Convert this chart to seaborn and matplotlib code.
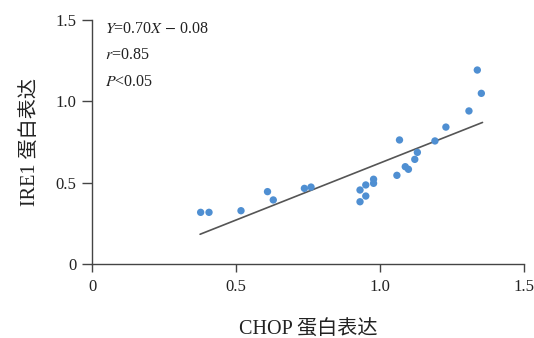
import numpy as np
import pandas as pd
import matplotlib
matplotlib.use("Agg")
import matplotlib.pyplot as plt
import seaborn as sns

# CHOP vs IRE1 protein expression per sample
chop = [0.377, 0.406, 0.517, 0.609, 0.629, 0.737, 0.760, 0.930, 0.930, 0.950,
        0.950, 0.977, 0.977, 1.058, 1.067, 1.087, 1.098, 1.120, 1.129, 1.190,
        1.228, 1.308, 1.337, 1.351]
ire1 = [0.317, 0.317, 0.327, 0.444, 0.393, 0.464, 0.472, 0.454, 0.382, 0.417,
        0.485, 0.520, 0.495, 0.544, 0.761, 0.597, 0.581, 0.642, 0.685, 0.755,
        0.840, 0.939, 1.190, 1.047]

# fitted line Y = slope * X + intercept
slope = 0.70
intercept = -0.08
fit_range = [0.375, 1.355]

ticks = [0, 0.5, 1.0, 1.5]
tick_labels = ["0", "0.5", "1.0", "1.5"]
stats_lines = [r"$\it{Y}$=0.70$\it{X}$ $-$ 0.08", r"$\it{r}$=0.85", r"$\it{P}$<0.05"]

sns.set_style("ticks")
plt.rcParams["font.family"] = ["Liberation Serif", "Noto Sans CJK SC"]
plt.rcParams["mathtext.fontset"] = "stix"

df = pd.DataFrame({"CHOP": chop, "IRE1": ire1})
fit = pd.DataFrame({"x": fit_range})
fit["y"] = slope * fit["x"] + intercept

fig = plt.figure(figsize=(5.34, 3.38), dpi=100)
ax = fig.add_axes([0.1723, 0.2189, 0.8095, 0.7234])

sns.lineplot(data=fit, x="x", y="y", ax=ax, color="#555555", linewidth=1.2)
sns.scatterplot(data=df, x="CHOP", y="IRE1", ax=ax, color="#4f8fd2",
                s=28, edgecolor="none", zorder=3)

ax.set_xlim(0, 1.5)
ax.set_ylim(0, 1.5)
ax.set_xticks(ticks)
ax.set_xticklabels(tick_labels)
ax.set_yticks(ticks)
ax.set_yticklabels(tick_labels)
ax.tick_params(axis="both", labelsize=12, color="#444444", labelcolor="#222222",
               width=1.0)
ax.tick_params(axis="x", length=6, pad=5)
ax.tick_params(axis="y", length=7, pad=4)
for side in ("top", "right"):
    ax.spines[side].set_visible(False)
for side in ("left", "bottom"):
    ax.spines[side].set_color("#444444")
    ax.spines[side].set_linewidth(1.0)

ax.set_xlabel("CHOP 蛋白表达", fontsize=14.5, color="#222222", labelpad=18)
ax.set_ylabel("IRE1 蛋白表达", fontsize=14.5, color="#222222", labelpad=11)

for i, txt in enumerate(stats_lines):
    ax.text(0.03, 0.963 - i * 0.11, txt, transform=ax.transAxes,
            fontsize=11.5, color="#222222", va="center", ha="left")

fig.savefig("out.png", dpi=100)
